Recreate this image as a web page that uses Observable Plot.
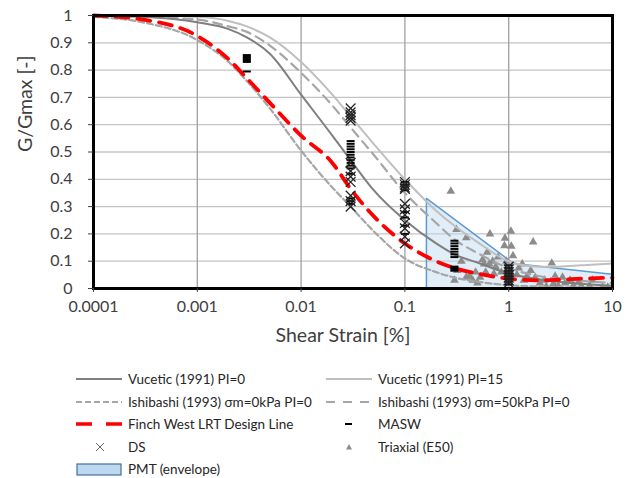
<!DOCTYPE html>
<html><head><meta charset="utf-8">
<script src="https://cdn.jsdelivr.net/npm/d3@7"></script>
<script src="https://cdn.jsdelivr.net/npm/@observablehq/plot@0.6"></script>
<style>
body{margin:0;background:#fff;font-family:Lato,"Open Sans",sans-serif;}
#chart{width:632px;position:relative;}
#legend{position:relative;width:632px;height:128px;font-size:13.5px;color:#262626;}
.item{position:absolute;height:20px;display:flex;align-items:center;white-space:nowrap;}
.item svg{flex:none;}
</style></head><body>
<div id="chart"></div>
<div id="legend"></div>
<script>
// ---- data ----
const strain = [0.0001,0.0003,0.001,0.002,0.003,0.005,0.01,0.02,0.03,0.05,0.1,0.2,0.3,0.5,1,2,3,5,10];
const vucetic0  = [1.0,0.995,0.975,0.95,0.92,0.86,0.71,0.56,0.47,0.36,0.25,0.165,0.125,0.095,0.055,0.033,0.025,0.017,0.01];
const vucetic15 = [1.0,1.0,0.995,0.98,0.96,0.92,0.83,0.71,0.63,0.53,0.40,0.285,0.23,0.17,0.10,0.08,0.08,0.085,0.092];
const ishi0     = [0.995,0.975,0.91,0.83,0.76,0.66,0.505,0.37,0.30,0.21,0.11,0.06,0.04,0.025,0.012,0.007,0.005,0.004,0.003];
const ishi50    = [1.0,0.995,0.985,0.96,0.94,0.89,0.79,0.67,0.59,0.49,0.35,0.24,0.18,0.13,0.075,0.045,0.035,0.028,0.02];
const finch     = [1.0,0.985,0.925,0.84,0.77,0.68,0.56,0.46,0.365,0.265,0.165,0.10,0.075,0.055,0.036,0.03,0.032,0.036,0.04];

const pmtStrain = [0.163,1.125,10];
const pmtUpper  = [0.328,0.09,0.05];

const maswStrain = [0.003,0.003,0.003,0.003,0.003,0.003,0.003,
  0.03,0.03,0.03,0.03,0.03,0.03,0.03,0.03,0.03,0.03,0.03,0.03,0.03,0.03,0.03,
  0.1,0.1,0.1,0.1,0.1,0.1,0.1,0.1,
  0.3,0.3,0.3,0.3,0.3,0.3,0.3,0.3,0.3,0.3,0.3,
  1,1,1,1,1,1,1,1];
const maswG = [0.855,0.85,0.845,0.84,0.835,0.83,0.795,
  0.54,0.53,0.52,0.51,0.50,0.49,0.48,0.47,0.46,0.45,0.44,0.42,0.33,0.32,0.31,
  0.39,0.38,0.37,0.36,0.28,0.26,0.23,0.20,
  0.175,0.165,0.155,0.145,0.135,0.125,0.115,0.08,0.075,0.07,0.065,
  0.085,0.075,0.065,0.055,0.045,0.035,0.025,0.015];

const dsStrain = [0.03,0.03,0.03,0.03,0.03,0.03,0.03,0.03,0.03,0.03,0.03,0.03,
  0.1,0.1,0.1,0.1,0.1,0.1,0.1,0.1,0.1,0.1,0.1,
  1,1,1,1,1,1,1];
const dsG = [0.66,0.645,0.635,0.625,0.615,0.46,0.43,0.41,0.39,0.34,0.32,0.30,
  0.39,0.38,0.37,0.365,0.31,0.29,0.27,0.24,0.22,0.19,0.165,
  0.08,0.07,0.06,0.05,0.04,0.03,0.02];

const triStrain = [0.277,0.314,0.39,0.66,0.92,1.05,0.91,1.06,1.72,0.56,0.62,0.79,2.6,1.35,1.63,0.39,0.53,0.72,0.32,4.7,6.4,3.3,3.9,2.7,1.4,2.3,
  0.3,0.45,0.6,0.65,0.7,0.75,0.85,1.2,1.5,1.8,2.0,2.2,3.0,3.5,5,6,8,9,1.1,0.58,0.5,0.35,0.42,0.48,2.8,4.2,0.95,1.25];
const triG = [0.356,0.216,0.186,0.20,0.184,0.21,0.157,0.155,0.17,0.105,0.133,0.115,0.093,0.09,0.066,0.041,0.041,0.054,0.066,0.023,0.03,0.041,0.03,0.018,0.03,0.007,
  0.03,0.03,0.06,0.09,0.10,0.08,0.06,0.05,0.045,0.04,0.02,0.03,0.01,0.02,0.01,0.01,0.005,0.005,0.12,0.09,0.02,0.10,0.045,0.06,0.045,0.012,0.1,0.075];

const xTicks = [0.0001,0.001,0.01,0.1,1,10];
const yTicks = [0,0.1,0.2,0.3,0.4,0.5,0.6,0.7,0.8,0.9,1];

// ---- tables ----
const curves = strain.map((s,i)=>({s, v0:vucetic0[i], v15:vucetic15[i], i0:ishi0[i], i50:ishi50[i], f:finch[i]}));
const pmt = pmtStrain.map((s,i)=>({s, g:pmtUpper[i]}));
const masw = maswStrain.map((s,i)=>({s, g:maswG[i]}));
const ds = dsStrain.map((s,i)=>({s, g:dsG[i]}));
const tri = triStrain.map((s,i)=>({s, g:triG[i]}));

const dash = {draw(ctx){ ctx.moveTo(-4,0); ctx.lineTo(4,0); }};

const plot = Plot.plot({
  width: 632, height: 350,
  marginTop: 15, marginBottom: 62, marginLeft: 93, marginRight: 20,
  style: {fontFamily: "Lato, sans-serif", fontSize: "16px", color: "#404040", background: "white", overflow: "visible"},
  x: {type: "log", domain: [0.0001, 10]},
  y: {domain: [0, 1]},
  marks: [
    Plot.gridY(yTicks, {stroke: "#c4c4c4", strokeOpacity: 1, strokeWidth: 1.3}),
    Plot.gridX(xTicks, {stroke: "#a0a0a0", strokeOpacity: 1, strokeWidth: 1.3}),
    Plot.areaY(pmt, {x: "s", y: "g", fill: "#bdd7ee", fillOpacity: 0.45, stroke: "#5b9bd5", strokeWidth: 1.5}),
    Plot.dot(tri, {x: "s", y: "g", symbol: "triangle", fill: "#8c8c8c", r: 3.2}),
    Plot.line(curves, {x: "s", y: "i0", stroke: "#a6a6a6", strokeWidth: 2.2, strokeDasharray: "6,3", curve: "monotone-x"}),
    Plot.line(curves, {x: "s", y: "i50", stroke: "#a6a6a6", strokeWidth: 2.2, strokeDasharray: "9,6", curve: "monotone-x"}),
    Plot.line(curves, {x: "s", y: "v15", stroke: "#bfbfbf", strokeWidth: 2, curve: "monotone-x"}),
    Plot.line(curves, {x: "s", y: "v0", stroke: "#7f7f7f", strokeWidth: 2, curve: "monotone-x"}),
    Plot.line(curves, {x: "s", y: "f", stroke: "#ff0000", strokeWidth: 3.8, strokeDasharray: "13,9", curve: "monotone-x"}),
    Plot.dot(masw, {x: "s", y: "g", symbol: dash, stroke: "black", strokeWidth: 2}),
    Plot.dot(ds, {x: "s", y: "g", symbol: "times", stroke: "#222", strokeWidth: 1.3, r: 4.5}),
    Plot.frame({stroke: "black", strokeWidth: 3}),
    Plot.axisX(xTicks, {tickFormat: d => String(d), tickSize: 4, tickPadding: 8, fontSize: 16, label: null, stroke: "#404040"}),
    Plot.axisY(yTicks, {tickFormat: d => String(+d.toFixed(1)), tickSize: 5, tickPadding: 16, fontSize: 16, label: null, stroke: "#404040"}),
    Plot.text(["Shear Strain [%]"], {text: d => d, frameAnchor: "bottom", lineAnchor: "middle", dy: 47, dx: -10, fontSize: 19.5, fill: "#404040"}),
    Plot.text(["G/Gmax [-]"], {text: d => d, frameAnchor: "left", dx: -68, rotate: -90, fontSize: 19.5, fill: "#404040"})
  ]
});
document.getElementById("chart").appendChild(plot);

// ---- legend ----
const legendItems = [
  {label: "Vucetic (1991) PI=0", col: 0, row: 0, sw: `<line x1="0" y1="10" x2="46" y2="10" stroke="#7f7f7f" stroke-width="2"/>`},
  {label: "Vucetic (1991) PI=15", col: 1, row: 0, sw: `<line x1="0" y1="10" x2="46" y2="10" stroke="#bfbfbf" stroke-width="2"/>`},
  {label: "Ishibashi (1993) σm=0kPa PI=0", col: 0, row: 1, sw: `<line x1="0" y1="10" x2="46" y2="10" stroke="#a6a6a6" stroke-width="2" stroke-dasharray="6,3"/>`},
  {label: "Ishibashi (1993) σm=50kPa PI=0", col: 1, row: 1, sw: `<line x1="0" y1="10" x2="46" y2="10" stroke="#a6a6a6" stroke-width="2" stroke-dasharray="9,8"/>`},
  {label: "Finch West LRT Design Line", col: 0, row: 2, sw: `<line x1="0" y1="10" x2="46" y2="10" stroke="#ff0000" stroke-width="3.5" stroke-dasharray="16,14"/>`},
  {label: "MASW", col: 1, row: 2, sw: `<line x1="19" y1="10" x2="26" y2="10" stroke="black" stroke-width="2"/>`},
  {label: "DS", col: 0, row: 3, sw: `<path d="M20,6L28,14M28,6L20,14" stroke="#666" stroke-width="1"/>`},
  {label: "Triaxial (E50)", col: 1, row: 3, sw: `<path d="M23,7L26,12.5L20,12.5Z" fill="#8c8c8c"/>`},
  {label: "PMT (envelope)", col: 0, row: 4, sw: `<rect x="1" y="5" width="44" height="11" fill="#bdd7ee" stroke="#41719c" stroke-width="1.2"/>`}
];
const rowCenters = [29, 52, 74, 97, 119];
const colX = [76, 326];
const leg = document.getElementById("legend");
for (const it of legendItems) {
  const d = document.createElement("div");
  d.className = "item";
  d.style.left = colX[it.col] + "px";
  d.style.top = (rowCenters[it.row] - 10) + "px";
  d.innerHTML = `<svg width="46" height="20">${it.sw}</svg><span style="margin-left:6px">${it.label}</span>`;
  leg.appendChild(d);
}
</script>
</body></html>
